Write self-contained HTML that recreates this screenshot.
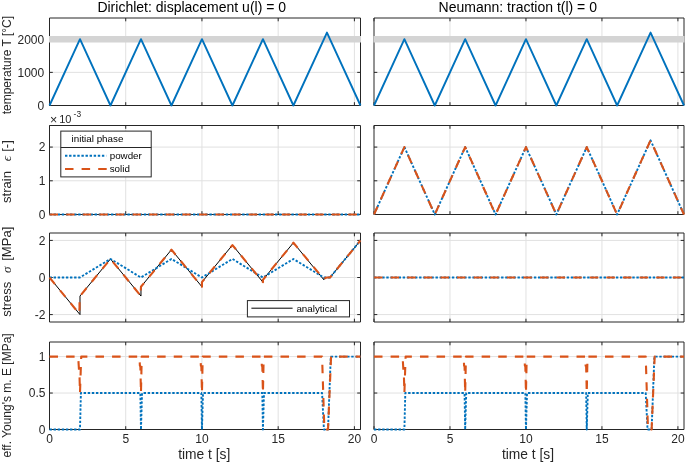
<!DOCTYPE html>
<html><head><meta charset="utf-8"><style>
html,body{margin:0;padding:0;background:#fff;}
svg{display:block;will-change:transform;}
text{font-family:"Liberation Sans",sans-serif;fill:#262626;}
.tk{font-size:12px;}
.lb{font-size:12px;}
.xl{font-size:13.8px;}
.lg{font-size:9.8px;fill:#000;}
.tt{font-size:14px;fill:#000;}
.ex{font-size:11px;}
.gr{font-family:"Liberation Serif",serif;font-style:italic;fill:#262626;}
</style></head><body>
<svg width="685" height="466" viewBox="0 0 685 466">
<rect width="685" height="466" fill="#fff"/>
<path d="M125.73 18.00V105.50M201.95 18.00V105.50M278.18 18.00V105.50M354.40 18.00V105.50M49.50 72.36H360.50M49.50 39.21H360.50" stroke="#e1e1e1" stroke-width="1" fill="none"/>
<path d="M49.50 18.00H360.50V105.50H49.50ZM49.50 105.50v-3.30M49.50 18.00v3.30M125.73 105.50v-3.30M125.73 18.00v3.30M201.95 105.50v-3.30M201.95 18.00v3.30M278.18 105.50v-3.30M278.18 18.00v3.30M354.40 105.50v-3.30M354.40 18.00v3.30M49.50 105.50h3.30M360.50 105.50h-3.30M49.50 72.36h3.30M360.50 72.36h-3.30M49.50 39.21h3.30M360.50 39.21h-3.30" stroke="#262626" stroke-width="1" fill="none"/>
<path d="M125.73 125.50V214.50M201.95 125.50V214.50M278.18 125.50V214.50M354.40 125.50V214.50M49.50 180.79H360.50M49.50 147.08H360.50" stroke="#e1e1e1" stroke-width="1" fill="none"/>
<path d="M49.50 125.50H360.50V214.50H49.50ZM49.50 214.50v-3.30M49.50 125.50v3.30M125.73 214.50v-3.30M125.73 125.50v3.30M201.95 214.50v-3.30M201.95 125.50v3.30M278.18 214.50v-3.30M278.18 125.50v3.30M354.40 214.50v-3.30M354.40 125.50v3.30M49.50 214.50h3.30M360.50 214.50h-3.30M49.50 180.79h3.30M360.50 180.79h-3.30M49.50 147.08h3.30M360.50 147.08h-3.30" stroke="#262626" stroke-width="1" fill="none"/>
<path d="M125.73 233.00V322.00M201.95 233.00V322.00M278.18 233.00V322.00M354.40 233.00V322.00M49.50 314.58H360.50M49.50 277.50H360.50M49.50 240.42H360.50" stroke="#e1e1e1" stroke-width="1" fill="none"/>
<path d="M49.50 233.00H360.50V322.00H49.50ZM49.50 322.00v-3.30M49.50 233.00v3.30M125.73 322.00v-3.30M125.73 233.00v3.30M201.95 322.00v-3.30M201.95 233.00v3.30M278.18 322.00v-3.30M278.18 233.00v3.30M354.40 322.00v-3.30M354.40 233.00v3.30M49.50 314.58h3.30M360.50 314.58h-3.30M49.50 277.50h3.30M360.50 277.50h-3.30M49.50 240.42h3.30M360.50 240.42h-3.30" stroke="#262626" stroke-width="1" fill="none"/>
<path d="M125.73 342.00V429.50M201.95 342.00V429.50M278.18 342.00V429.50M354.40 342.00V429.50M49.50 393.04H360.50M49.50 356.58H360.50" stroke="#e1e1e1" stroke-width="1" fill="none"/>
<path d="M49.50 342.00H360.50V429.50H49.50ZM49.50 429.50v-3.30M49.50 342.00v3.30M125.73 429.50v-3.30M125.73 342.00v3.30M201.95 429.50v-3.30M201.95 342.00v3.30M278.18 429.50v-3.30M278.18 342.00v3.30M354.40 429.50v-3.30M354.40 342.00v3.30M49.50 429.50h3.30M360.50 429.50h-3.30M49.50 393.04h3.30M360.50 393.04h-3.30M49.50 356.58h3.30M360.50 356.58h-3.30" stroke="#262626" stroke-width="1" fill="none"/>
<path d="M49.00 39.21H361.00" stroke="#d4d4d4" stroke-width="6.5"/>
<path d="M49.50 105.50 L79.99 39.21 L110.48 105.50 L140.97 39.21 L171.46 105.50 L201.95 39.21 L232.44 105.50 L262.93 39.21 L293.42 105.50 L326.96 32.58 L360.50 105.50" fill="none" stroke="#0072BD" stroke-width="1.9" stroke-linejoin="round"/>
<path d="M49.50 214.50 L360.50 214.50" fill="none" stroke="#0072BD" stroke-width="1.9" stroke-dasharray="2.4 1.7" stroke-linejoin="round"/>
<path d="M49.50 214.50 L360.50 214.50" fill="none" stroke="#D95319" stroke-width="2.1" stroke-dasharray="8.5 8.1" stroke-linejoin="round"/>
<path d="M49.50 277.50 L79.99 314.58 L79.99 296.04 L110.48 258.96 L140.97 296.04 L140.97 286.77 L171.46 249.69 L201.95 286.77 L201.95 282.14 L232.44 245.05 L262.93 282.14 L262.93 279.82 L293.42 242.73 L323.91 279.82 L324.22 277.50 L330.01 277.50 L360.50 240.42" fill="none" stroke="#000" stroke-width="1.0" stroke-linejoin="round"/>
<path d="M49.50 277.50 L79.99 277.50 L110.48 258.96 L140.97 277.50 L171.46 258.96 L201.95 277.50 L232.44 258.96 L262.93 277.50 L293.42 258.96 L323.91 277.50 L330.01 277.50 L360.50 240.42" fill="none" stroke="#0072BD" stroke-width="1.9" stroke-dasharray="2.4 1.7" stroke-linejoin="round"/>
<path d="M49.50 277.50 L79.23 313.66 L79.53 307.17 L79.53 299.75 L79.99 296.04 L110.48 258.96 L140.97 296.04 L140.67 292.33 L140.97 286.77 L171.46 249.69 L201.95 286.77 L201.95 282.14 L232.44 245.05 L262.93 282.14 L262.93 279.82 L293.42 242.73 L323.15 278.43 L323.91 278.98 L325.44 277.87 L326.96 277.50 L330.01 277.50 L360.50 240.42" fill="none" stroke="#D95319" stroke-width="2.1" stroke-dasharray="8.5 8.1" stroke-linejoin="round"/>
<path d="M49.50 429.50 L79.99 429.50 L80.90 393.04 L140.36 393.04 L140.97 429.50 L142.04 393.04 L201.34 393.04 L201.95 429.50 L203.02 393.04 L262.32 393.04 L262.93 429.50 L264.00 393.04 L322.08 393.04 L323.91 429.50 L328.03 429.50 L330.77 356.58 L360.50 356.58" fill="none" stroke="#0072BD" stroke-width="1.9" stroke-dasharray="2.4 1.7" stroke-linejoin="round"/>
<path d="M49.50 356.58 L78.16 356.58 L79.08 371.17 L79.38 371.17 L79.99 393.04 L81.21 356.58 L139.45 356.58 L139.90 366.06 L140.36 366.06 L140.97 393.04 L141.73 356.58 L200.43 356.58 L200.88 366.06 L201.34 366.06 L201.95 393.04 L202.71 356.58 L261.41 356.58 L261.86 366.06 L262.32 366.06 L262.93 393.04 L263.69 356.58 L322.08 356.58 L324.37 429.50 L328.03 429.50 L331.08 356.58 L360.50 356.58" fill="none" stroke="#D95319" stroke-width="2.1" stroke-dasharray="8.5 8.1" stroke-linejoin="round"/>
<text x="49.50" y="442.80" class="tk" text-anchor="middle">0</text>
<text x="125.73" y="442.80" class="tk" text-anchor="middle">5</text>
<text x="201.95" y="442.80" class="tk" text-anchor="middle">10</text>
<text x="278.18" y="442.80" class="tk" text-anchor="middle">15</text>
<text x="354.40" y="442.80" class="tk" text-anchor="middle">20</text>
<path d="M449.98 18.00V105.50M525.96 18.00V105.50M601.94 18.00V105.50M677.92 18.00V105.50M374.00 72.36H684.00M374.00 39.21H684.00" stroke="#e1e1e1" stroke-width="1" fill="none"/>
<path d="M374.00 18.00H684.00V105.50H374.00ZM374.00 105.50v-3.30M374.00 18.00v3.30M449.98 105.50v-3.30M449.98 18.00v3.30M525.96 105.50v-3.30M525.96 18.00v3.30M601.94 105.50v-3.30M601.94 18.00v3.30M677.92 105.50v-3.30M677.92 18.00v3.30M374.00 105.50h3.30M684.00 105.50h-3.30M374.00 72.36h3.30M684.00 72.36h-3.30M374.00 39.21h3.30M684.00 39.21h-3.30" stroke="#262626" stroke-width="1" fill="none"/>
<path d="M449.98 125.50V214.50M525.96 125.50V214.50M601.94 125.50V214.50M677.92 125.50V214.50M374.00 180.79H684.00M374.00 147.08H684.00" stroke="#e1e1e1" stroke-width="1" fill="none"/>
<path d="M374.00 125.50H684.00V214.50H374.00ZM374.00 214.50v-3.30M374.00 125.50v3.30M449.98 214.50v-3.30M449.98 125.50v3.30M525.96 214.50v-3.30M525.96 125.50v3.30M601.94 214.50v-3.30M601.94 125.50v3.30M677.92 214.50v-3.30M677.92 125.50v3.30M374.00 214.50h3.30M684.00 214.50h-3.30M374.00 180.79h3.30M684.00 180.79h-3.30M374.00 147.08h3.30M684.00 147.08h-3.30" stroke="#262626" stroke-width="1" fill="none"/>
<path d="M449.98 233.00V322.00M525.96 233.00V322.00M601.94 233.00V322.00M677.92 233.00V322.00M374.00 314.58H684.00M374.00 277.50H684.00M374.00 240.42H684.00" stroke="#e1e1e1" stroke-width="1" fill="none"/>
<path d="M374.00 233.00H684.00V322.00H374.00ZM374.00 322.00v-3.30M374.00 233.00v3.30M449.98 322.00v-3.30M449.98 233.00v3.30M525.96 322.00v-3.30M525.96 233.00v3.30M601.94 322.00v-3.30M601.94 233.00v3.30M677.92 322.00v-3.30M677.92 233.00v3.30M374.00 314.58h3.30M684.00 314.58h-3.30M374.00 277.50h3.30M684.00 277.50h-3.30M374.00 240.42h3.30M684.00 240.42h-3.30" stroke="#262626" stroke-width="1" fill="none"/>
<path d="M449.98 342.00V429.50M525.96 342.00V429.50M601.94 342.00V429.50M677.92 342.00V429.50M374.00 393.04H684.00M374.00 356.58H684.00" stroke="#e1e1e1" stroke-width="1" fill="none"/>
<path d="M374.00 342.00H684.00V429.50H374.00ZM374.00 429.50v-3.30M374.00 342.00v3.30M449.98 429.50v-3.30M449.98 342.00v3.30M525.96 429.50v-3.30M525.96 342.00v3.30M601.94 429.50v-3.30M601.94 342.00v3.30M677.92 429.50v-3.30M677.92 342.00v3.30M374.00 429.50h3.30M684.00 429.50h-3.30M374.00 393.04h3.30M684.00 393.04h-3.30M374.00 356.58h3.30M684.00 356.58h-3.30" stroke="#262626" stroke-width="1" fill="none"/>
<path d="M373.50 39.21H684.50" stroke="#d4d4d4" stroke-width="6.5"/>
<path d="M374.00 105.50 L404.39 39.21 L434.78 105.50 L465.18 39.21 L495.57 105.50 L525.96 39.21 L556.35 105.50 L586.75 39.21 L617.14 105.50 L650.57 32.58 L684.00 105.50" fill="none" stroke="#0072BD" stroke-width="1.9" stroke-linejoin="round"/>
<path d="M374.00 214.50 L404.39 147.08 L434.78 214.50 L465.18 147.08 L495.57 214.50 L525.96 147.08 L556.35 214.50 L586.75 147.08 L617.14 214.50 L650.57 140.33 L684.00 214.50" fill="none" stroke="#0072BD" stroke-width="1.9" stroke-dasharray="2.4 1.7" stroke-linejoin="round"/>
<path d="M374.00 214.50 L404.39 147.08 L434.78 214.50 L465.18 147.08 L495.57 214.50 L525.96 147.08 L556.35 214.50 L586.75 147.08 L617.14 214.50 L650.57 140.33 L684.00 214.50" fill="none" stroke="#D95319" stroke-width="2.1" stroke-dasharray="8.5 8.1" stroke-linejoin="round"/>
<path d="M374.00 277.50 L684.00 277.50" fill="none" stroke="#0072BD" stroke-width="1.9" stroke-dasharray="2.4 1.7" stroke-linejoin="round"/>
<path d="M374.00 277.50 L684.00 277.50" fill="none" stroke="#D95319" stroke-width="2.1" stroke-dasharray="8.5 8.1" stroke-linejoin="round"/>
<path d="M374.00 429.50 L404.39 429.50 L405.30 393.04 L464.57 393.04 L465.18 429.50 L466.24 393.04 L525.35 393.04 L525.96 429.50 L527.02 393.04 L586.14 393.04 L586.75 429.50 L587.81 393.04 L645.71 393.04 L647.53 429.50 L651.63 429.50 L654.37 356.58 L684.00 356.58" fill="none" stroke="#0072BD" stroke-width="1.9" stroke-dasharray="2.4 1.7" stroke-linejoin="round"/>
<path d="M374.00 356.58 L402.57 356.58 L403.48 371.17 L403.78 371.17 L404.39 393.04 L405.61 356.58 L463.66 356.58 L464.11 366.06 L464.57 366.06 L465.18 393.04 L465.94 356.58 L524.44 356.58 L524.90 366.06 L525.35 366.06 L525.96 393.04 L526.72 356.58 L585.23 356.58 L585.68 366.06 L586.14 366.06 L586.75 393.04 L587.50 356.58 L645.71 356.58 L647.99 429.50 L651.63 429.50 L654.67 356.58 L684.00 356.58" fill="none" stroke="#D95319" stroke-width="2.1" stroke-dasharray="8.5 8.1" stroke-linejoin="round"/>
<text x="374.00" y="442.80" class="tk" text-anchor="middle">0</text>
<text x="449.98" y="442.80" class="tk" text-anchor="middle">5</text>
<text x="525.96" y="442.80" class="tk" text-anchor="middle">10</text>
<text x="601.94" y="442.80" class="tk" text-anchor="middle">15</text>
<text x="677.92" y="442.80" class="tk" text-anchor="middle">20</text>
<text x="44.20" y="110.10" class="tk" text-anchor="end">0</text>
<text x="44.20" y="76.96" class="tk" text-anchor="end">1000</text>
<text x="44.20" y="43.81" class="tk" text-anchor="end">2000</text>
<text x="45.50" y="218.70" class="tk" text-anchor="end">0</text>
<text x="45.50" y="184.99" class="tk" text-anchor="end">1</text>
<text x="45.50" y="151.28" class="tk" text-anchor="end">2</text>
<text x="45.50" y="318.78" class="tk" text-anchor="end">-2</text>
<text x="45.50" y="281.70" class="tk" text-anchor="end">0</text>
<text x="45.50" y="244.62" class="tk" text-anchor="end">2</text>
<text x="45.50" y="433.70" class="tk" text-anchor="end">0</text>
<text x="45.50" y="397.24" class="tk" text-anchor="end">0.5</text>
<text x="45.50" y="360.78" class="tk" text-anchor="end">1</text>
<rect x="60.8" y="131.1" width="90.4" height="45.8" fill="#fff" stroke="#262626" stroke-width="1"/>
<path d="M60.8 147.5H151.2" stroke="#262626" stroke-width="1"/>
<text x="71.6" y="141.8" class="lg">initial phase</text>
<path d="M65.0 155.8H106.2" stroke="#0072BD" stroke-width="1.9" stroke-dasharray="2.4 1.7"/>
<text x="109.7" y="158.7" class="lg">powder</text>
<path d="M65.0 169.0H107.0" stroke="#D95319" stroke-width="1.9" stroke-dasharray="8.5 8.1"/>
<text x="109.7" y="171.8" class="lg">solid</text>
<rect x="247.4" y="300.6" width="102.1" height="16.3" fill="#fff" stroke="#262626" stroke-width="1"/>
<path d="M251.4 308.2H292.6" stroke="#000" stroke-width="1"/>
<text x="296.4" y="311.7" class="lg">analytical</text>
<text x="50.0" y="124.2" style="font-size:12.5px">&#215;</text>
<text x="59.2" y="122.6" style="font-size:11px">10</text>
<text x="73.6" y="117.0" style="font-size:8.4px">-3</text>
<text x="97.4" y="12.3" class="tt">Dirichlet: displacement u(l) = 0</text>
<text x="438.6" y="12.4" class="tt">Neumann: traction t(l) = 0</text>
<text x="204.3" y="459.2" class="xl" text-anchor="middle">time t [s]</text>
<text x="528" y="459.2" class="xl" text-anchor="middle">time t [s]</text>
<text transform="translate(10.8 65.10) rotate(-90)" x="0" y="0" class="lb" text-anchor="middle">temperature T [°C]</text>
<text transform="translate(10.8 203.00) rotate(-90)" x="0" y="0" class="lb" style="font-size:13.1px">strain</text>
<text transform="translate(10.8 161.30) rotate(-90)" x="0" y="0" class="gr" style="font-size:13.1px">&#1013;</text>
<text transform="translate(10.8 151.80) rotate(-90)" x="0" y="0" class="lb" style="font-size:13.1px">[-]</text>
<text transform="translate(10.8 316.70) rotate(-90)" x="0" y="0" class="lb" style="font-size:13.1px">stress</text>
<text transform="translate(10.8 273.00) rotate(-90)" x="0" y="0" class="gr" style="font-size:13.1px">&#963;</text>
<text transform="translate(10.8 260.80) rotate(-90)" x="0" y="0" class="lb" style="font-size:13.1px">[MPa]</text>
<text transform="translate(10.8 395.40) rotate(-90)" x="0" y="0" class="lb" text-anchor="middle">eff. Young's m. E [MPa]</text>
</svg>
</body></html>
